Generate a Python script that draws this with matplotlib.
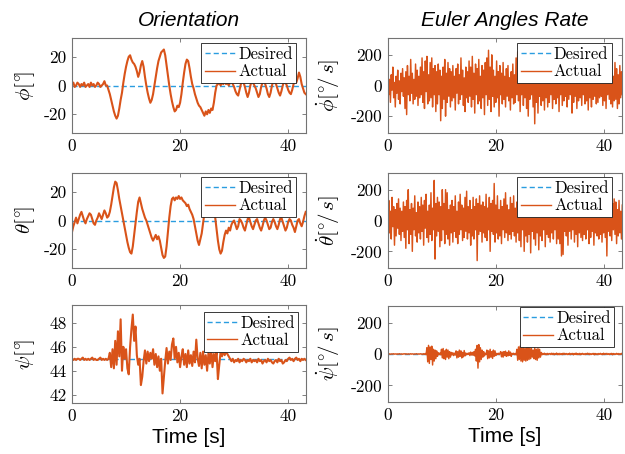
import numpy as np
import matplotlib.pyplot as plt

plt.rcParams['mathtext.fontset'] = 'cm'
plt.rcParams['axes.unicode_minus'] = False

dt_ang = 0.25
dt_rate = 0.15

# roll angle [deg]
phi = [1, 2, -1, 0, 2, 1, -1, 1, 0, 2, -1, 0, 1, -1, 2, 0, 1, -1, 0, 2, 1, -1, 0, 1, 3, 0,
       0, -3, -6, -10, -14, -18, -21, -23, -21, -16, -10, -5, 2, 8, 13, 17, 20, 21, 18, 16,
       15, 13, 10, 6, 9, 14, 17, 13, 6, 0, -5, -9, -12, -10, -6, 0, 6, 12, 17, 20,
       23, 24, 25, 21, 14, 7, 0, -6, -11, -15, -18, -17, -14, -15, -12, -6, 2, 9, 15, 18,
       17, 12, 6, 1, -2, -6, -9, -12, -14, -15, -17, -19, -21, -18, -20, -17, -19, -16, -17, -12,
       -5, 0,
       1, 2, 0, 2, 1, 3, 1, 2, 0, 2, 3, 1, -1, -4, -6, -7, -3, 1, 3, 2,
       -1, -5, -8, -5, 0, 3, 2, 0, -2, -5, -8, -6, -1, 2, 3, 1, -2, -6, -8, -5,
       0, 3, 2, 1, -2, -5, -7, -4, 0, 3, 2, 0, -3, -5, -6, -3, 1, 3, 2, 5,
       9, 6, 1, -2, -5, -6]

# pitch angle [deg]
theta = [-8, -4, -1, 2, -2, 1, 4, 6, 3, 0, -2, 1, 3, 5, 4, 1, -2, -3, 0, 2, 5, 3, 1, 4, 7, 5, 2, 3,
         6, 11, 17, 23, 27, 26, 21, 15, 10, 5, 0, -5, -10, -15, -19, -22, -23, -18, -10, -2,
         6, 13, 16, 12, 8, 5, 2, 0, -3, -6, -9, -12, -14, -12, -10, -13, -11, -14, -19, -24,
         -26, -25, -18, -8, 2, 10, 15, 16, 14, 16, 15, 17, 15, 16, 14, 13, 12, 10, 11, 8,
         6, 4, 1, -4, -9, -14, -17, -13, -9, -2, 5, 9, 10, 8, 9, 7, 8, 6, 2, -6,
         -14, -20, -23, -21, -15, -10, -7, -9, -5, -7, -3, -1,
         0, -3, -6, -4, 1, 0, -2, -5, -7, -3, 1, 2, -1, -4, -6, -3, 0, 1, -2, -5,
         -7, -4, 0, 2, 0, -3, -6, -5, -1, 1, -1, -4, -6, -3, 1, 2, -1, -4, -7, -5,
         -1, 1, 0, -3, -5, -8, -4, 0, 1, -2, -4, -1, 3, 6]

# yaw angle [deg]
psi = [45.0, 44.9, 45.0, 44.9, 45.0, 45.0, 44.9, 45.0, 45.1, 44.9, 45.0, 44.9, 45.0, 44.9,
       45.0, 45.1, 44.9, 45.0, 44.9, 44.9, 45.0, 45.1, 44.9, 45.0, 44.9, 45.0, 44.9, 45.0,
       45.5, 44.3, 45.8, 44.2, 46.5, 44.5, 47.3, 45.2, 48.3, 44.0,
       46.0, 45.0, 45.8, 44.2, 43.7, 46.0, 47.5, 48.7, 46.5, 47.7,
       45.3, 44.5, 45.0, 42.8, 43.5, 44.8, 45.7, 44.6, 45.6, 44.8,
       45.5, 45.0, 45.8, 44.5, 45.4, 44.3, 45.2, 44.0, 45.0, 42.1,
       43.5, 44.8, 45.9, 44.6, 45.6, 44.9, 46.2, 46.7, 45.0, 46.0,
       44.7, 45.5, 44.3, 45.2, 45.8, 44.5, 45.4, 44.3, 45.7, 44.6,
       45.3, 44.4, 45.6, 44.7, 46.6, 45.0, 44.4, 45.5, 44.2, 45.6,
       44.5, 45.3, 44.0, 45.5, 44.6, 45.8, 44.3, 45.4, 44.8, 45.6,
       43.3, 44.5, 45.6, 45.2, 45.7, 45.3, 45.6, 45.4,
       45.2, 45.0, 44.8, 45.0, 44.7, 44.9, 44.8, 45.0, 44.7, 44.9,
       44.8, 45.0, 44.9, 44.7, 44.9, 44.8, 45.0, 44.7, 44.9, 44.8,
       44.9, 44.7, 45.0, 44.8, 44.9, 44.6, 44.8, 44.9, 44.7, 45.0,
       44.8, 44.9, 44.7, 44.6, 44.8, 44.9, 44.7, 45.0, 44.8, 44.9,
       44.6, 44.7, 44.9, 44.8, 45.0, 45.1, 44.9, 45.0, 44.8, 45.0,
       45.1, 44.9, 45.0, 44.8, 45.0, 44.9, 45.0, 44.9]

# roll rate [deg/s]
phi_dot = [90, -60, 40, -110, 70, -30, 120, -80, 20, -140, 60, -50, 100, -90, 30, -120, 80, -40, 110, -70,
           50, -150, 90, -190, 130, -60, 60, -100, 170, -50, 80, -120, 40, -90, 140, -70, 100, -130, 60, -80,
           120, -60, 180, -110, 90, -150, 160, -40, 190, -120, 70, -100, 150, -80, 180, -140, 110, -60, 130, -170,
           90, -120, 140, -60, 100, -230, 60, -150, 120, -90, 170, -200, 80, -110, 150, -70, 110, -140, 90, -100,
           130, -80, 60, -160, 110, -50, 140, -120, 70, -90, 180, -60, 100, -130, 50, -170, 120, -80, 90, -110,
           160, -70, 120, -140, 190, -90, 80, -180, 140, -60, 110, -120, 170, -100, 60, -150, 130, -80, 100, -190,
           150, -60, 180, -130, 230, -90, 120, -170, 200, -70, 100, -140, 60, -110, 160, -80, 90, -200, 130, -60,
           80, -120, 150, -90, 60, -140, 110, -70, 130, -100, 50, -160, 90, -80, 140, -120, 70, -110, 180, -60,
           220, -100, 140, -170, 90, -60, 190, -130, 110, -80, 160, -150, 70, -200, 120, -90, 180, -60, 100, -140,
           130, -250, 80, -110, 150, -180, 90, -70, 170, -130, 60, -100, 140, -160, 100, -80, 120, -140, 70, -110,
           140, -60, 100, -150, 70, -90, 160, -120, 50, -80, 130, -170, 90, -60, 110, -130, 80, -100, 150, -70,
           60, -140, 120, -90, 100, -60, 150, -180, 80, -110, 130, -70, 90, -150, 60, -100, 140, -80, 110, -130,
           90, -60, 150, -120, 70, -100, 130, -160, 110, -80, 60, -140, 170, -90, 100, -70, 140, -120, 80, -110,
           120, -80, 160, -70, 90, -130, 140, -100, 70, -150, 110, -60, 130, -90, 180, -120, 80, -140, 60, -100,
           150, -90, 110, -150, 70, -120, 130, -80, 90, -60]

# pitch rate [deg/s]
theta_dot = [-250, 130, -80, 60, -120, 150, -40, 90, -160, 70, -100, 110, -50, 140, -90, 80, -130, 60, -70, 120,
             -110, 90, -180, 130, -60, 200, -150, 70, -90, 110, -200, 80, -60, 160, -100, 50, -140, 120, -80, 90,
             -120, 150, -70, 100, -160, 130, -50, 170, -110, 60, -140, 100, -90, 180, -130, 80, -60, 260, -250, 110,
             -100, 150, -70, 120, -170, 90, -130, 200, -60, 110, -150, 200, -90, 180, -120, 70, -160, 100, -80, 130,
             -140, 90, -70, 160, -110, 60, -150, 120, -90, 170, -60, 100, -130, 80, -110, 150, -70, 190, -120, 90,
             -80, 130, -160, 70, -100, 150, -120, 90, -60, 140, -260, 110, -90, 160, -70, 100, -140, 120, -80, 90,
             -110, 170, -130, 80, -60, 150, -200, 110, -70, 130, -90, 240, -140, 100, -80, 160, -120, 70, -100, 130,
             -150, 90, -60, 140, -110, 180, -80, 100, -130, 70, -90, 150, -120, 110, -70, 160, -100, 80, -140, 120,
             -80, 200, -130, 90, -170, 140, -60, 110, -200, 80, -100, 150, -140, 70, -90, 130, -210, 100, -70, 160,
             -120, 90, -160, 140, -80, 110, -190, 70, -100, 150, -130, 80, -60, 120, -170, 100, -90, 140, -110, 70,
             -140, 110, -80, 160, -120, 90, -60, 130, -150, 100, -120, 80, -150, 120, -230, 70, -220, 110, -70, 150,
             -100, 80, -160, 130, -70, 110, -120, 90, -60, 150, -140, 100, -90, 70, -170, 120, -80, 140, -110, 90,
             -130, 70, -90, 160, -120, 100, -60, 140, -150, 80, -110, 130, -70, 90, -160, 110, -80, 120, -100, 60,
             -120, 150, -90, 100, -140, 70, -80, 130, -110, 90, -230, 120, -70, 160, -100, 80, -130, 110, -60, 140,
             -90, 120, -150, 70, -100, 130, -80, 60, -120, 100]

# yaw rate [deg/s]
psi_dot = [2, -1, 1, -2, 0, 1, -1, 2, -1, 0, 1, -2, 1, -1, 2, 0, -1, 1, -2, 1,
           0, 2, -1, 1, -2, 1, 0, -1, 2, -1, 1, 0, -2, 1, -1, 2, 0, -1, 1, -1,
           2, -1, 1, -3, 2, -2, 3, -4, 40, -50, 55, -60, 45, -35, 50, -70, 30, -45, 25, -30,
           20, -15, 8, -4, 6, -5, 30, -25, 35, -30, 20, -35, 30, -20, 25, -30, 15, -20, 10, -6,
           8, -10, 5, -6, 20, -25, 15, -20, 25, -15, 20, -25, 10, -18, 22, -12, 6, -5, 4, -3,
           8, -10, 12, -6, 10, -8, 15, -12, 30, -45, 55, -90, 60, -50, 40, -35, 25, -20, 15, -12,
           4, -3, 25, -30, 20, -25, 30, -20, 15, -28, 25, -15, 20, -10, 4, -3, 5, -4, 3, 15,
           -18, 12, -20, 15, -10, 18, -15, 10, -12, 20, -8, 12, -15, 4, -3, 5, -4, 3, -5, 30,
           -40, 45, -35, 50, -45, 40, -50, 45, -40, 35, -45, 50, -40, 45, -35, 40, -30, 35, -20, 25,
           -30, 40, -35, 30, -40, 35, -25, 30, -20, 10, -5, 4, -3, 5, -4, 3, -5, 4, -3, 2,
           3, -4, 5, -3, 4, -5, 3, -2, 6, -4, 3, -5, 4, -3, 2, -4, 5, -3, 4, -2,
           3, -4, 2, -3, 5, -4, 3, -2, 4, -5, 3, -3, 6, -4, 2, -3, 4, -5, 3, -2,
           4, -3, 2, -4, 3, -2, 5, -3, 4, -4, 2, -3, 3, -2, 4, -5, 3, -3, 2, -4,
           3, -2, 4, -3, 2, -4, 5, -3, 3, -2, 4, -3, 2, -4, 3, -2, 4, -5, 3, -2,
           2, -3, 4, -2, 3, -4, 2, -3, 4, -2]

# desired set points
phi_des, theta_des, psi_des = 0.0, 0.0, 45.0
rate_des = 0.0

c_des = '#2A9DE0'
c_act = '#D95319'
t_end = 43.3

fig = plt.figure(figsize=(6.25, 4.54), dpi=100)

W = 234 / 625
panels = [
    # left, top, bottom (px), data, desired, dt, ylim, yticks, ylabel, legend anchor
    (72, 38, 133, phi, phi_des, dt_ang, (-33, 33), [-20, 0, 20], r'$\phi[^{\circ}\!]$', (0.957, 0.947)),
    (388, 38, 133, phi_dot, rate_des, dt_rate, (-310, 310), [-200, 0, 200], r'$\dot{\phi}[^{\circ}\!/\,s]$', (0.956, 0.947)),
    (72, 173, 268, theta, theta_des, dt_ang, (-33, 33), [-20, 0, 20], r'$\theta[^{\circ}\!]$', (0.957, 0.958)),
    (388, 173, 268, theta_dot, rate_des, dt_rate, (-308, 308), [-200, 0, 200], r'$\dot{\theta}[^{\circ}\!/\,s]$', (0.957, 0.958)),
    (72, 305, 403, psi, psi_des, dt_ang, (41.3, 49.5), [42, 44, 46, 48], r'$\psi[^{\circ}\!]$', (0.966, 0.93)),
    (388, 306, 402, psi_dot, rate_des, dt_rate, (-306, 306), [-200, 0, 200], r'$\dot{\psi}[^{\circ}\!/\,s]$', (0.966, 0.99)),
]

axes = []
for k, (lp, tp, bp, y, des, dt, ylim, yt, ylab, anc) in enumerate(panels):
    ax = fig.add_axes([lp / 625, 1 - bp / 454, W, (bp - tp) / 454])
    t = np.arange(len(y)) * dt
    lw = 1.5 if k % 2 == 0 else 1.05
    ax.plot(t, np.full(len(t), des), color=c_des, lw=1.0, dashes=(3.7, 2.2), label='Desired')
    ax.plot(t, y, color=c_act, lw=lw, label='Actual')
    ax.set_xlim(0, t_end)
    ax.set_ylim(*ylim)
    ax.set_xticks([0, 20, 40])
    ax.set_xticklabels(['0', '20', '40'], family='cmr10', fontsize=12.5)
    ax.set_yticks(yt)
    ax.set_yticklabels([str(v) for v in yt], family='cmr10', fontsize=12.5)
    ax.tick_params(direction='in', length=3, width=0.5, top=True, right=True,
                   color='0.3', pad=4)
    for s in ax.spines.values():
        s.set_color('0.45')
        s.set_linewidth(0.8)
    ax.set_ylabel(ylab, fontsize=15)
    ax.yaxis.set_label_coords(-0.15 if k % 2 == 0 else -0.197, 0.5)
    leg = ax.legend(loc='upper right', bbox_to_anchor=anc, borderaxespad=0,
                    prop={'family': 'cmr10', 'size': 12}, fancybox=False,
                    framealpha=1, edgecolor='0.1', handlelength=1.8,
                    handletextpad=0.2, labelspacing=0.15, borderpad=0.2)
    leg.get_frame().set_linewidth(0.6)
    for h in leg.get_lines():
        h.set_linewidth(1.0)
    axes.append(ax)

axes[0].set_title('Orientation', fontsize=15, style='italic', family='Liberation Sans', pad=9)
axes[1].set_title('Euler Angles Rate', fontsize=15, style='italic', family='Liberation Sans', pad=9)
for ax in axes[4:]:
    ax.set_xlabel('Time [s]', fontsize=15, family='Liberation Sans', labelpad=3)

fig.savefig('out.png', dpi=100)
